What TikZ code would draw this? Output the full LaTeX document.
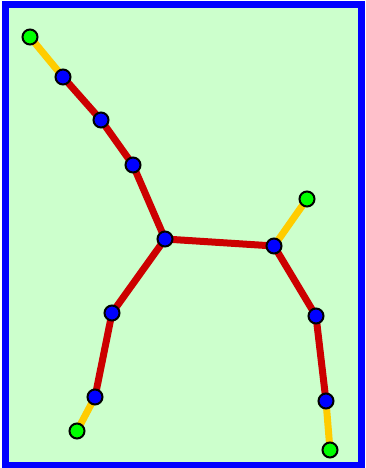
\documentclass[tikz,border=0pt]{standalone}
\usetikzlibrary{backgrounds}
\begin{document}
\begin{tikzpicture}[x=1pt,y=-1pt,
  inner/.style={circle,draw=black,line width=2pt,fill=blue,minimum size=15pt,inner sep=0pt},
  leaf/.style={circle,draw=black,line width=2pt,fill=green,minimum size=15pt,inner sep=0pt},
  redge/.style={draw={rgb,255:red,204;green,0;blue,0},line width=7pt},
  yedge/.style={draw={rgb,255:red,255;green,204;blue,0},line width=7pt}]
\useasboundingbox (0,0) rectangle (365,468);
\node[leaf] (g1) at (30,37) {};
\node[leaf] (g2) at (307,199) {};
\node[leaf] (g3) at (77,431) {};
\node[leaf] (g4) at (330,450) {};
\node[inner] (b1) at (63,77) {};
\node[inner] (b2) at (101,120) {};
\node[inner] (b3) at (133,165) {};
\node[inner] (b4) at (165,239) {};
\node[inner] (b5) at (274,246) {};
\node[inner] (b6) at (316,316) {};
\node[inner] (b7) at (112,313) {};
\node[inner] (b8) at (95,397) {};
\node[inner] (b9) at (326,401) {};
\begin{pgfonlayer}{background}
\draw[line width=7pt,draw=blue,fill={rgb,255:red,204;green,255;blue,204}] (5,5) rectangle (361.5,465);
\path[yedge] (g1.center) -- (b1.center);
\path[yedge] (b5.center) -- (g2.center);
\path[yedge] (b9.center) -- (g4.center);
\path[yedge] (b8.center) -- (g3.center);
\path[redge] (b1.center) -- (b2.center) -- (b3.center) -- (b4.center) -- (b5.center) -- (b6.center) -- (b9.center);
\path[redge] (b4.center) -- (b7.center) -- (b8.center);
\end{pgfonlayer}
\end{tikzpicture}
\end{document}
